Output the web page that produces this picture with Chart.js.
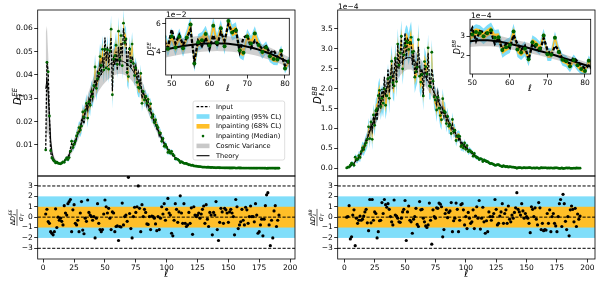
<!DOCTYPE html>
<html><head><meta charset="utf-8"><title>Inpainting power spectra</title>
<script src="https://cdn.jsdelivr.net/npm/chart.js@4.4.1/dist/chart.umd.min.js"></script>
<style>
html,body{margin:0;padding:0;background:#fff;}
#wrap{position:relative;width:600px;height:284px;overflow:hidden;background:#fff;}
#wrap canvas{position:absolute;left:0;top:0;}
</style></head><body>
<div id="wrap">
<canvas id="mainEE" width="600" height="284"></canvas>
<canvas id="resEE" width="600" height="284"></canvas>
<canvas id="mainBB" width="600" height="284"></canvas>
<canvas id="resBB" width="600" height="284"></canvas>
<canvas id="insEE" width="600" height="284"></canvas>
<canvas id="insBB" width="600" height="284"></canvas>
</div>
<script>
// ================= DATA (multipoles start at ell = 2) =================
const ELL_MIN = 2;
// ---- EE, units of 1e-3 ----
const theoryEE = [
 34,38,32,22,12,7.0,4.8,3.6,3.0,2.6,
 2.3,2.1,2.1,2.2,2.5,3.0,3.6,4.3,5.1,6.0,
 7.0,8.0,9.1,10.3,11.6,13.0,14.5,16.0,17.6,19.2,
 20.8,22.4,24.0,25.6,27.1,28.6,30.1,31.5,32.9,34.2,
 35.4,36.6,37.7,38.7,39.6,40.4,41.2,41.9,42.5,43.1,
 43.6,44.1,44.5,44.9,45.2,45.5,45.7,45.9,46.0,46.1,
 46.1,46.0,45.9,45.7,45.4,45.1,44.7,44.2,43.6,43.0,
 42.3,41.5,40.6,39.6,38.6,37.5,36.3,35.0,33.7,32.4,
 31.0,29.6,28.2,26.8,25.4,24.0,22.6,21.2,19.9,18.6,
 17.3,16.1,14.9,13.8,12.7,11.7,10.7,9.8,9.0,8.2,
 7.5,6.8,6.2,5.6,5.1,4.6,4.2,3.8,3.4,3.1,
 2.8,2.5,2.3,2.1,1.9,1.7,1.6,1.4,1.3,1.2,
 1.1,1.0,0.92,0.85,0.78,0.72,0.66,0.61,0.56,0.52,
 0.48,0.45,0.42,0.39,0.36,0.34,0.32,0.30,0.28,0.26,
 0.25,0.24,0.23,0.22,0.21,0.20,0.19,0.18,0.17,0.17,
 0.16,0.16,0.15,0.15,0.14,0.14,0.13,0.13,0.12,0.12,
 0.12,0.11,0.11,0.11,0.10,0.10,0.10,0.10,0.09,0.09,
 0.09,0.09,0.09,0.08,0.08,0.08,0.08,0.08,0.08,0.07,
 0.07,0.07,0.07,0.07,0.07,0.07,0.07,0.06,0.06,0.06];
const cvEE = [
 24,23,17,10,5.5,3.0,1.9,1.3,1.0,0.8,
 0.7,0.6,0.6,0.6,0.6,0.7,0.8,0.9,1.1,1.2,
 1.4,1.6,1.8,2.0,2.2,2.4,2.6,2.8,3.0,3.2,
 3.4,3.6,3.8,4.0,4.2,4.4,4.6,4.8,5.0,5.1,
 5.2,5.3,5.4,5.5,5.6,5.7,5.7,5.8,5.8,5.8,
 5.8,5.8,5.8,5.8,5.8,5.8,5.8,5.7,5.7,5.7,
 5.6,5.6,5.5,5.5,5.4,5.4,5.3,5.2,5.1,5.0,
 4.9,4.8,4.7,4.6,4.4,4.3,4.1,4.0,3.8,3.7,
 3.5,3.3,3.2,3.0,2.9,2.7,2.5,2.4,2.2,2.1,
 1.9,1.8,1.7,1.5,1.4,1.3,1.2,1.1,1.0,0.9,
 0.8,0.7,0.65,0.6,0.5,0.45,0.4,0.4,0.35,0.3,
 0.3,0.25,0.22,0.2,0.18,0.16,0.15,0.13,0.12,0.11,
 0.1,0.09,0.08,0.08,0.07,0.07,0.06,0.06,0.05,0.05,
 0.04,0.04,0.04,0.04,0.04,0.04,0.04,0.04,0.04,0.04,
 0.03,0.03,0.03,0.03,0.03,0.03,0.03,0.03,0.03,0.03,
 0.02,0.02,0.02,0.02,0.02,0.02,0.02,0.02,0.02,0.02,
 0.02,0.02,0.02,0.02,0.02,0.02,0.02,0.02,0.02,0.02,
 0.01,0.01,0.01,0.01,0.01,0.01,0.01,0.01,0.01,0.01,
 0.01,0.01,0.01,0.01,0.01,0.01,0.01,0.01,0.01,0.01];
const inputEE = [
 8.0,46.0,41.0,22.0,7.0,4.0,3.2,2.8,2.5,2.4,
 2.2,2.0,1.9,2.2,2.6,2.9,3.8,4.6,4.4,5.5,
 8.5,10.5,9.5,11.5,11.0,13.0,14.8,15.5,17.0,20.5,
 22.0,19.0,24.5,27.0,25.0,29.5,27.5,33.0,30.0,35.5,
 38.0,34.0,42.0,39.0,44.5,40.0,47.5,43.0,56.0,46.0,
 52.0,45.0,50.0,56.0,33.0,48.0,44.0,50.0,42.0,52.0,
 44.0,54.0,48.0,60.0,54.0,56.0,40.0,50.0,52.0,43.0,
 48.0,45.0,42.0,44.0,39.0,41.0,36.0,38.0,30.0,33.0,
 30.5,31.5,27.0,28.5,25.0,26.0,22.0,23.0,19.5,20.0,
 17.0,17.5,14.0,15.0,12.5,13.0,10.5,10.0,9.5,8.0,
 7.8,6.6,6.5,5.3,5.3,4.5,4.3,3.7,3.5,3.0,
 2.9,2.4,2.4,2.0,2.0,1.7,1.6,1.4,1.35,1.2,
 1.1,1.0,0.95,0.85,0.8,0.72,0.68,0.6,0.57,0.52,
 0.49,0.45,0.43,0.39,0.37,0.34,0.33,0.30,0.29,0.26,
 0.26,0.24,0.24,0.22,0.22,0.20,0.20,0.18,0.18,0.17,
 0.17,0.16,0.16,0.15,0.15,0.14,0.14,0.13,0.13,0.12,
 0.12,0.11,0.12,0.11,0.10,0.11,0.10,0.10,0.09,0.10,
 0.09,0.09,0.09,0.08,0.09,0.08,0.08,0.08,0.08,0.07,
 0.08,0.07,0.07,0.07,0.07,0.07,0.07,0.06,0.06,0.06];
const sigmaEE = [
 0.4,0.8,0.8,0.7,0.4,0.3,0.25,0.2,0.2,0.2,
 0.2,0.2,0.2,0.2,0.25,0.3,0.35,0.4,0.5,0.6,
 0.7,0.8,0.9,1.0,1.1,1.2,1.3,1.4,1.5,1.6,
 1.7,1.8,1.9,2.0,2.1,2.2,2.3,2.4,2.5,2.6,
 2.7,2.7,2.8,2.8,2.8,2.9,2.9,2.9,3.0,3.0,
 3.0,3.0,3.0,3.0,3.0,3.0,3.0,3.0,3.0,3.0,
 3.0,3.0,3.0,2.9,2.9,2.9,2.8,2.8,2.7,2.7,
 2.6,2.5,2.4,2.3,2.2,2.1,2.0,1.9,1.8,1.7,
 1.6,1.55,1.5,1.45,1.4,1.35,1.3,1.25,1.2,1.15,
 1.1,1.05,1.0,0.95,0.9,0.85,0.8,0.75,0.7,0.65,
 0.6,0.55,0.5,0.45,0.4,0.37,0.34,0.31,0.28,0.25,
 0.22,0.2,0.18,0.16,0.14,0.13,0.12,0.11,0.1,0.09,
 0.08,0.08,0.07,0.07,0.06,0.06,0.05,0.05,0.05,0.04,
 0.04,0.04,0.04,0.04,0.04,0.04,0.04,0.04,0.04,0.04,
 0.03,0.03,0.03,0.03,0.03,0.03,0.03,0.03,0.03,0.03,
 0.03,0.03,0.03,0.03,0.03,0.03,0.03,0.03,0.03,0.03,
 0.02,0.02,0.02,0.02,0.02,0.02,0.02,0.02,0.02,0.02,
 0.02,0.02,0.02,0.02,0.02,0.02,0.02,0.02,0.02,0.02,
 0.02,0.02,0.02,0.02,0.02,0.02,0.02,0.02,0.02,0.02];
const residEE = [
 0.3,0.76,-0.43,-0.6,-1.4,-1.56,-1.7,-1.4,0.8,-1.0,
 0.0,-0.3,-0.1,-0.4,-0.75,1.1,0.4,0.2,1.3,1.5,
 1.7,-1.4,0.7,1.2,-0.6,-0.75,-0.3,-1.4,0.4,1.5,
 -1.25,-1.6,-0.1,-0.4,1.65,0.45,0.2,0.05,-0.3,0.05,
 -2.0,-0.1,1.3,-0.6,-1.2,-1.4,-1.2,0.3,1.65,1.0,
 0.4,0.85,-0.1,-1.2,0.5,0.4,-1.4,-0.9,-0.85,-2.25,
 -0.9,-0.95,1.35,-0.75,0.05,0.2,-0.4,3.83,0.35,-1.1,
 -2.0,0.05,0.95,0.45,1.0,3.0,0.85,-1.4,1.2,0.05,
 0.75,0.45,-0.65,-0.7,0.05,-1.2,0.1,0.05,-0.1,-0.65,
 -1.3,0.05,-1.2,-0.1,1.0,0.3,1.3,-0.3,0.75,1.8,
 0.4,0.2,-1.55,-1.8,-0.3,1.3,0.75,-0.5,0.5,2.05,
 0.4,-0.6,1.3,-0.6,-0.9,-0.75,0.45,-0.6,0.9,-1.65,
 1.0,0.2,0.05,0.2,0.4,-0.1,0.3,0.75,1.07,-0.6,
 1.2,-0.2,-0.9,0.45,0.2,-1.7,0.45,0.2,1.5,-1.2,
 -2.25,-0.5,0.85,0.5,-0.6,0.85,0.7,0.4,-0.5,0.5,
 0.75,0.4,0.05,-1.7,1.7,1.0,-1.1,-0.75,-0.45,0.75,
 -0.3,-0.75,0.95,0.7,-0.6,0.05,1.07,0.05,0.05,-0.45,
 1.3,0.2,-1.55,-1.4,-0.75,-0.2,-1.8,-0.2,1.1,2.15,
 2.35,-0.75,-2.75,-0.3,-2.0,0.6,1.1,-0.9,-0.3,0.2];
// ---- BB, units of 1e-4 ----
const theoryBB = [
 0.02,0.03,0.04,0.06,0.08,0.10,0.13,0.16,0.20,0.24,
 0.29,0.34,0.40,0.46,0.53,0.60,0.68,0.76,0.84,0.92,
 1.00,1.08,1.16,1.24,1.32,1.40,1.48,1.56,1.64,1.72,
 1.80,1.88,1.95,2.02,2.09,2.16,2.22,2.28,2.34,2.40,
 2.45,2.50,2.55,2.59,2.63,2.67,2.70,2.73,2.75,2.77,
 2.78,2.78,2.78,2.77,2.75,2.72,2.69,2.65,2.60,2.56,
 2.52,2.48,2.44,2.39,2.34,2.29,2.24,2.19,2.13,2.08,
 2.02,1.96,1.90,1.84,1.78,1.72,1.65,1.59,1.53,1.47,
 1.41,1.35,1.29,1.23,1.17,1.11,1.06,1.00,0.95,0.90,
 0.85,0.80,0.76,0.71,0.67,0.63,0.59,0.56,0.52,0.49,
 0.46,0.43,0.40,0.38,0.35,0.33,0.31,0.29,0.27,0.25,
 0.23,0.22,0.20,0.19,0.17,0.16,0.15,0.14,0.13,0.12,
 0.11,0.10,0.095,0.088,0.081,0.075,0.069,0.064,0.059,0.055,
 0.050,0.046,0.043,0.040,0.037,0.034,0.031,0.029,0.027,0.025,
 0.023,0.021,0.020,0.018,0.017,0.016,0.015,0.014,0.013,0.012,
 0.012,0.011,0.011,0.010,0.010,0.009,0.009,0.009,0.008,0.008,
 0.008,0.007,0.007,0.007,0.007,0.006,0.006,0.006,0.006,0.006,
 0.005,0.005,0.005,0.005,0.005,0.005,0.005,0.005,0.005,0.005,
 0.005,0.005,0.005,0.004,0.004,0.004,0.004,0.004,0.004,0.004,
 0.004,0.004,0.004];
const cvBB = [
 0.01,0.015,0.02,0.025,0.03,0.035,0.04,0.045,0.05,0.06,
 0.07,0.08,0.09,0.10,0.11,0.12,0.13,0.14,0.15,0.16,
 0.17,0.18,0.19,0.20,0.21,0.22,0.22,0.23,0.24,0.25,
 0.26,0.26,0.27,0.27,0.28,0.28,0.29,0.29,0.30,0.30,
 0.30,0.30,0.30,0.30,0.30,0.30,0.30,0.30,0.30,0.30,
 0.30,0.30,0.30,0.29,0.29,0.29,0.28,0.28,0.27,0.27,
 0.26,0.26,0.25,0.25,0.24,0.24,0.23,0.23,0.22,0.22,
 0.21,0.20,0.20,0.19,0.19,0.18,0.17,0.17,0.16,0.16,
 0.15,0.14,0.14,0.13,0.12,0.12,0.11,0.11,0.10,0.10,
 0.09,0.09,0.08,0.08,0.07,0.07,0.07,0.06,0.06,0.05,
 0.05,0.05,0.04,0.04,0.04,0.04,0.03,0.03,0.03,0.03,
 0.03,0.02,0.02,0.02,0.02,0.02,0.02,0.02,0.02,0.02,
 0.01,0.01,0.01,0.01,0.01,0.01,0.01,0.01,0.01,0.01,
 0.01,0.01,0.01,0.01,0.01,0.01,0.01,0.01,0.01,0.01,
 0.005,0.005,0.005,0.005,0.005,0.005,0.005,0.005,0.005,0.005,
 0.004,0.004,0.004,0.004,0.004,0.004,0.004,0.004,0.004,0.004,
 0.003,0.003,0.003,0.003,0.003,0.003,0.003,0.003,0.003,0.003,
 0.003,0.003,0.003,0.003,0.003,0.003,0.003,0.003,0.003,0.003,
 0.002,0.002,0.002,0.002,0.002,0.002,0.002,0.002,0.002,0.002,
 0.002,0.002,0.002];
const inputBB = [
 0.01,0.03,0.05,0.04,0.08,0.12,0.10,0.17,0.22,0.20,
 0.30,0.28,0.40,0.50,0.48,0.62,0.72,0.68,0.90,0.95,
 1.10,0.95,1.30,1.15,1.50,1.20,1.60,1.90,1.50,2.00,
 1.70,2.30,1.80,2.00,2.50,1.90,2.30,2.60,2.00,2.40,
 2.80,2.20,3.10,2.50,2.80,3.30,2.60,3.00,3.40,2.75,
 3.25,3.20,3.10,3.20,2.60,2.90,2.30,2.60,2.40,3.05,
 2.60,2.30,2.50,1.80,2.60,2.40,2.20,2.90,2.30,2.00,
 2.50,2.30,1.80,1.70,1.60,1.90,1.70,1.50,1.35,1.50,
 1.30,1.45,1.20,1.30,1.10,1.15,1.00,1.10,0.90,0.95,
 0.80,0.85,0.72,0.78,0.62,0.66,0.55,0.60,0.48,0.52,
 0.44,0.45,0.40,0.39,0.33,0.34,0.30,0.30,0.26,0.26,
 0.22,0.23,0.19,0.20,0.16,0.17,0.14,0.15,0.12,0.12,
 0.11,0.10,0.10,0.09,0.08,0.08,0.07,0.065,0.06,0.055,
 0.05,0.046,0.043,0.04,0.037,0.034,0.031,0.029,0.027,0.025,
 0.024,0.021,0.021,0.018,0.018,0.016,0.016,0.014,0.014,0.012,
 0.012,0.011,0.011,0.010,0.010,0.009,0.009,0.009,0.008,0.008,
 0.008,0.007,0.007,0.007,0.007,0.006,0.006,0.006,0.006,0.006,
 0.005,0.005,0.005,0.005,0.005,0.005,0.005,0.005,0.005,0.005,
 0.005,0.005,0.005,0.004,0.004,0.004,0.004,0.004,0.004,0.004,
 0.004,0.004,0.004];
const sigmaBB = [
 0.01,0.01,0.015,0.02,0.025,0.03,0.035,0.04,0.05,0.05,
 0.06,0.06,0.07,0.08,0.08,0.09,0.10,0.10,0.11,0.12,
 0.12,0.13,0.14,0.14,0.15,0.15,0.16,0.16,0.17,0.17,
 0.18,0.18,0.18,0.19,0.19,0.19,0.20,0.20,0.20,0.20,
 0.20,0.20,0.20,0.20,0.20,0.20,0.20,0.20,0.20,0.20,
 0.20,0.20,0.20,0.20,0.20,0.20,0.20,0.20,0.20,0.20,
 0.19,0.19,0.19,0.18,0.18,0.18,0.17,0.17,0.17,0.16,
 0.16,0.16,0.15,0.15,0.15,0.14,0.14,0.14,0.13,0.13,
 0.12,0.12,0.11,0.11,0.10,0.10,0.09,0.09,0.085,0.08,
 0.075,0.07,0.07,0.065,0.06,0.06,0.055,0.05,0.05,0.045,
 0.045,0.04,0.04,0.035,0.035,0.03,0.03,0.03,0.025,0.025,
 0.02,0.02,0.02,0.02,0.02,0.02,0.02,0.02,0.02,0.02,
 0.015,0.015,0.015,0.015,0.015,0.015,0.015,0.015,0.015,0.015,
 0.01,0.01,0.01,0.01,0.01,0.01,0.01,0.01,0.01,0.01,
 0.01,0.01,0.01,0.01,0.01,0.01,0.01,0.01,0.01,0.01,
 0.005,0.005,0.005,0.005,0.005,0.005,0.005,0.005,0.005,0.005,
 0.005,0.005,0.005,0.005,0.005,0.005,0.005,0.005,0.005,0.005,
 0.005,0.005,0.005,0.005,0.005,0.005,0.005,0.005,0.005,0.005,
 0.005,0.005,0.005,0.005,0.005,0.005,0.005,0.005,0.005,0.005,
 0.005,0.005,0.005];
const residBB = [
 0.0,0.05,1.1,-2.1,-1.9,0.2,0.7,-2.75,-0.1,-0.6,
 -0.3,0.1,-0.3,-0.2,0.1,0.5,0.75,-0.55,-1.3,1.7,
 -0.55,1.7,-0.3,0.5,0.35,-2.0,-1.4,-0.35,-0.3,1.4,
 0.35,1.7,1.2,0.95,1.3,0.75,0.05,-0.45,-0.75,1.65,
 0.2,0.1,-0.1,-0.45,-0.5,-0.1,0.5,0.75,1.6,-2.25,
 0.5,1.07,-0.3,-0.45,-1.55,-0.2,0.05,0.85,-0.7,-0.9,
 1.5,0.7,0.75,-0.1,-0.45,-0.85,-1.0,-0.75,1.35,-0.3,
 -2.6,0.7,0.05,-0.1,0.9,0.85,1.35,1.25,1.0,-1.9,
 -1.2,0.35,0.7,-0.05,0.45,0.6,1.4,-1.4,-0.35,-0.1,
 1.35,0.75,-1.4,-0.3,1.2,1.3,0.7,-0.75,0.05,-1.1,
 0.45,-0.1,-0.6,-0.45,0.7,-1.1,0.1,1.0,-0.1,1.6,
 -1.15,-0.1,0.95,-0.45,-1.55,-0.35,-1.4,0.5,0.05,-0.3,
 0.05,0.35,1.7,0.75,-0.75,-0.6,0.1,0.5,1.3,-0.6,
 0.35,0.7,-0.6,1.07,-0.2,-0.45,0.2,-0.1,0.45,0.9,
 2.35,0.75,0.5,0.2,1.3,0.6,-0.1,0.35,0.05,-0.1,
 -0.6,-1.5,1.0,0.75,0.05,0.9,-0.2,-0.75,1.4,0.9,
 -1.2,-0.6,-1.3,-1.2,-1.25,0.35,-0.6,0.7,-1.4,0.05,
 0.35,-0.6,-0.85,-1.4,0.05,1.3,1.7,-0.9,2.2,1.3,
 -0.4,-1.2,0.05,-1.8,0.7,1.07,0.75,-0.45,0.85,-0.9,
 0.3,-0.2,0.1];
// ---- ticks / reference levels ----
const mainEETicks = [0.01,0.02,0.03,0.04,0.05,0.06];
const mainBBTicks = [0,0.5,1,1.5,2,2.5,3,3.5];
const resYTicks = [-3,-2,-1,0,1,2,3];
const resXTicks = [0,25,50,75,100,125,150,175,200];
const insXTicks = [50,60,70,80];
const insEETicks = [4,6];
const insBBTicks = [2,3];
const sigmaLevels = [2,1];
const refLines = [-3,0,3];
const legendLabels = ['Input','Inpainting (95% CL)','Inpainting (68% CL)','Inpainting (Median)','Cosmic Variance','Theory'];

// ================= STYLE =================
const FONT = 'DejaVu Sans';
const CYAN = 'rgb(128,222,250)';
const ORANGE = 'rgb(255,191,40)';
const GRAY = 'rgba(140,140,140,0.42)';
const GREEN = 'rgb(0,100,0)';

function buildSpectrum(T, CV, I, S, R){
  const ells = T.map((_, i) => ELL_MIN + i);
  const M = I.map((v, i) => v - R[i] * S[i]);
  return {ells, T, I, M, R,
    cvHi: T.map((v,i)=>v+CV[i]), cvLo: T.map((v,i)=>v-CV[i]),
    hi68: M.map((v,i)=>v+S[i]), lo68: M.map((v,i)=>v-S[i]),
    hi95: M.map((v,i)=>v+2*S[i]), lo95: M.map((v,i)=>v-2*S[i])};
}
const EE = buildSpectrum(theoryEE, cvEE, inputEE, sigmaEE, residEE);
const BB = buildSpectrum(theoryBB, cvBB, inputBB, sigmaBB, residBB);

function xy(sp, key, k){ return sp[key].map((v,i)=>({x: sp.ells[i], y: v*k})); }

function specDatasets(sp, k, st){
  const band = (key, fill, color, order) => ({data: xy(sp,key,k), fill: fill ? '+1' : false,
    backgroundColor: color, borderColor:'transparent', borderWidth:0, pointRadius:0, order, clip:0});
  return [
    {label:'Inpainting (Median)', data: xy(sp,'M',k), showLine:false, pointRadius: st.pr,
      pointBackgroundColor: GREEN, pointBorderColor: GREEN, pointBorderWidth:0, order:0, clip:0},
    {label:'Theory', data: xy(sp,'T',k), borderColor:'#000', borderWidth: st.tw, pointRadius:0, order:1, clip:0},
    {label:'Input', data: xy(sp,'I',k), borderColor:'#000', borderWidth: st.iw, borderDash: st.dash, pointRadius:0, order:2, clip:0},
    band('cvHi', true, GRAY, 3), band('cvLo', false, GRAY, 3),
    band('hi68', true, ORANGE, 4), band('lo68', false, ORANGE, 4),
    band('hi95', true, CYAN, 5), band('lo95', false, CYAN, 5)
  ];
}

function axis(pos, min, max, ticks, fmt, size, show){
  return {type:'linear', position:pos, min, max, bounds:'data', display: show,
    afterBuildTicks: s => { s.ticks = ticks.map(v => ({value: v})); },
    afterFit: s => { if (pos==='left') s.width=size; else s.height=size;
      s.paddingLeft=0; s.paddingRight=0; s.paddingTop=0; s.paddingBottom=0; },
    grid:{display:true, drawOnChartArea:false, drawTicks:true, tickLength:3.5, tickWidth:0.8, tickColor:'#000', color:'#000', lineWidth:0.8},
    border:{display:false},
    ticks:{callback: v => fmt(v), font:{family:FONT, size:7.5}, color:'#000', padding:1.5, autoSkip:false, maxRotation:0, minRotation:0}
  };
}
const fmtMinus = v => (v<0 ? '\u2212' : '') + Math.abs(v);

function makeChart(id, box, datasets, xAx, yAx, xH, yW, plugins){
  const [l,t,r,b] = box;
  return new Chart(document.getElementById(id), {
    type:'line', data:{datasets},
    options:{responsive:false, animation:false, devicePixelRatio:1, events:[],
      layout:{autoPadding:false, padding:{left:l-yW, top:t, right:600-r, bottom:284-b-xH}},
      plugins:{legend:{display:false}, tooltip:{enabled:false}},
      elements:{line:{tension:0}},
      scales:{x:xAx, y:yAx}},
    plugins
  });
}

// ---------- plugins / text helpers ----------
const frame = {id:'frame', afterDraw(c){ const a=c.chartArea, g=c.ctx; g.save(); g.strokeStyle='#000'; g.lineWidth=0.8;
  g.strokeRect(a.left,a.top,a.right-a.left,a.bottom-a.top); g.restore(); }};
const whiteArea = {id:'whiteArea', beforeDraw(c){ const a=c.chartArea, g=c.ctx; g.save(); g.fillStyle='#fff';
  g.fillRect(a.left,a.top,a.right-a.left,a.bottom-a.top); g.restore(); }};
const resBands = {id:'resBands', beforeDatasetsDraw(c){
  const a=c.chartArea, g=c.ctx, y=c.scales.y; const cols=[CYAN, ORANGE];
  g.save();
  sigmaLevels.forEach((s,i)=>{ const y1=y.getPixelForValue(s), y2=y.getPixelForValue(-s);
    g.fillStyle=cols[i]; g.fillRect(a.left,y1,a.right-a.left,y2-y1); });
  g.strokeStyle='#000'; g.lineWidth=1; g.setLineDash([3.2,1.6]);
  refLines.forEach(v=>{ const p=y.getPixelForValue(v); g.beginPath(); g.moveTo(a.left,p); g.lineTo(a.right,p); g.stroke(); });
  g.restore(); }};
const textPlugin = fn => ({id:'txt'+Math.random().toString(36).slice(2), afterDraw(c){ const g=c.ctx; g.save(); g.fillStyle='#000'; g.strokeStyle='#000'; g.textAlign='left'; g.textBaseline='alphabetic'; fn(g,c); g.restore(); }});

function measureMath(g, size, pre, base, sup, sub){
  let w = 0;
  if (pre){ g.font = `${size}px ${FONT}`; w += g.measureText(pre).width; }
  g.font = `italic ${size}px ${FONT}`; w += g.measureText(base).width + 0.5;
  g.font = `italic ${size*0.7}px ${FONT}`;
  w += Math.max(sup ? g.measureText(sup).width : 0, sub ? g.measureText(sub).width : 0);
  return w;
}
function drawMath(g, x, y, size, pre, base, sup, sub){
  let cx = x;
  if (pre){ g.font = `${size}px ${FONT}`; g.fillText(pre, cx, y); cx += g.measureText(pre).width; }
  g.font = `italic ${size}px ${FONT}`; g.fillText(base, cx, y); cx += g.measureText(base).width + 0.5;
  g.font = `italic ${size*0.7}px ${FONT}`;
  if (sup) g.fillText(sup, cx, y - size*0.42);
  if (sub) g.fillText(sub, cx, y + size*0.22);
}
function yLabel(g, cx, cy, size, sup){
  const w = measureMath(g, size, '', 'D', sup, '\u2113');
  g.save(); g.translate(cx, cy); g.rotate(-Math.PI/2);
  drawMath(g, -w/2, size*0.33, size, '', 'D', sup, '\u2113');
  g.restore();
}
function fracLabel(g, cx, cy, sup){
  const s = 6.5;
  const wn = measureMath(g, s, '\u0394', 'D', sup, '\u2113');
  const wd = measureMath(g, s, '', '\u03c3', '', 'T');
  const L = Math.max(wn, wd) + 1;
  g.save(); g.translate(cx, cy); g.rotate(-Math.PI/2);
  drawMath(g, -wn/2, -2.4, s, '\u0394', 'D', sup, '\u2113');
  g.lineWidth = 0.6; g.beginPath(); g.moveTo(-L/2, 0); g.lineTo(L/2, 0); g.stroke();
  drawMath(g, -wd/2, 5.6, s, '', '\u03c3', '', 'T');
  g.restore();
}
function xLabel(g, cx, cy, size){
  g.font = `italic ${size}px ${FONT}`; g.textAlign='center'; g.textBaseline='middle';
  g.fillText('\u2113', cx, cy); g.textAlign='left'; g.textBaseline='alphabetic';
}
function offsetText(g, x, y, txt){ g.font = `7.5px ${FONT}`; g.fillText(txt, x, y); }
function drawLegend(g){
  const x0=193, y0=101, w=91.7, h=59, r=2;
  g.beginPath(); g.moveTo(x0+r,y0); g.lineTo(x0+w-r,y0); g.quadraticCurveTo(x0+w,y0,x0+w,y0+r);
  g.lineTo(x0+w,y0+h-r); g.quadraticCurveTo(x0+w,y0+h,x0+w-r,y0+h); g.lineTo(x0+r,y0+h);
  g.quadraticCurveTo(x0,y0+h,x0,y0+h-r); g.lineTo(x0,y0+r); g.quadraticCurveTo(x0,y0,x0+r,y0); g.closePath();
  g.fillStyle='rgba(255,255,255,0.85)'; g.fill(); g.strokeStyle='#d6d6d6'; g.lineWidth=0.8; g.stroke();
  const hx0=196.5, hx1=209.5;
  legendLabels.forEach((lab,i)=>{
    const y = 106.7 + i*9.8;
    g.save();
    if (i===0){ g.strokeStyle='#000'; g.lineWidth=1.2; g.setLineDash([2.6,1.6]); g.beginPath(); g.moveTo(hx0,y); g.lineTo(hx1,y); g.stroke(); }
    if (i===1){ g.fillStyle=CYAN; g.fillRect(hx0,y-2.3,hx1-hx0,4.6); }
    if (i===2){ g.fillStyle=ORANGE; g.fillRect(hx0,y-2.3,hx1-hx0,4.6); }
    if (i===3){ g.fillStyle=GREEN; g.beginPath(); g.arc((hx0+hx1)/2,y,1.3,0,Math.PI*2); g.fill(); }
    if (i===4){ g.fillStyle='rgb(200,200,200)'; g.fillRect(hx0,y-2.3,hx1-hx0,4.6); }
    if (i===5){ g.strokeStyle='#000'; g.lineWidth=1.1; g.beginPath(); g.moveTo(hx0,y); g.lineTo(hx1,y); g.stroke(); }
    g.restore();
    g.fillStyle='#000'; g.font=`6.6px ${FONT}`; g.textBaseline='middle'; g.fillText(lab, 216, y+0.3);
  });
  g.textBaseline='alphabetic';
}

// ================= CHARTS =================
const mainStyle = {pr:1.4, tw:1.0, iw:1.3, dash:[2.6,1.5]};
const insStyle = {pr:2.0, tw:2.0, iw:2.3, dash:[3.6,1.8]};

// EE main
makeChart('mainEE', [37.7,10,295,176], specDatasets(EE, 1e-3, mainStyle),
  axis('bottom', -4.5, 204, [], v=>'', 0, false),
  axis('left', -0.00328, 0.0678, mainEETicks, v=>v.toFixed(2), 30, true), 0, 30,
  [frame, textPlugin(g=>{ yLabel(g, 18, 96.5, 10, 'EE'); drawLegend(g); })]);
// EE residual
makeChart('resEE', [37.7,176,295,259],
  [{data: EE.R.map((v,i)=>({x:EE.ells[i], y:v})), showLine:false, pointRadius:1.6, pointBackgroundColor:'#000', pointBorderColor:'#000', pointBorderWidth:0, clip:0}],
  axis('bottom', -4.5, 204, resXTicks, v=>String(v), 14, true),
  axis('left', -4.03, 3.96, resYTicks, fmtMinus, 30, true), 14, 30,
  [resBands, frame, textPlugin(g=>{ fracLabel(g, 17, 217.5, 'EE'); xLabel(g, 166, 274, 10); })]);
// BB main
makeChart('mainBB', [337.7,10,595,176], specDatasets(BB, 1, mainStyle),
  axis('bottom', -5.4, 206.3, [], v=>'', 0, false),
  axis('left', -0.193, 3.977, mainBBTicks, v=>v.toFixed(1), 30, true), 0, 30,
  [frame, textPlugin(g=>{ yLabel(g, 318, 95, 10, 'BB'); offsetText(g, 338, 8.5, '1e\u22124'); })]);
// BB residual
makeChart('resBB', [337.7,176,595,259],
  [{data: BB.R.map((v,i)=>({x:BB.ells[i], y:v})), showLine:false, pointRadius:1.6, pointBackgroundColor:'#000', pointBorderColor:'#000', pointBorderWidth:0, clip:0}],
  axis('bottom', -5.4, 206.3, resXTicks, v=>String(v), 14, true),
  axis('left', -4.03, 3.96, resYTicks, fmtMinus, 30, true), 14, 30,
  [resBands, frame, textPlugin(g=>{ fracLabel(g, 317, 217.5, 'BB'); xLabel(g, 466, 274, 10); })]);
// EE inset (units 1e-2)
makeChart('insEE', [165.7,18.3,289.3,75], specDatasets(EE, 0.1, insStyle),
  axis('bottom', 48.41, 81.14, insXTicks, v=>String(v), 12, true),
  axis('left', 2.32, 6.41, insEETicks, v=>String(v), 12, true), 12, 12,
  [whiteArea, frame, textPlugin(g=>{ yLabel(g, 151.5, 49, 8, 'EE'); xLabel(g, 228, 89, 9); offsetText(g, 166, 16.8, '1e\u22122'); })]);
// BB inset (units 1e-4)
makeChart('insBB', [470,19.3,590.7,74], specDatasets(BB, 1, insStyle),
  axis('bottom', 49.39, 81.52, insXTicks, v=>String(v), 12, true),
  axis('left', 1.07, 3.85, insBBTicks, v=>String(v), 12, true), 12, 12,
  [whiteArea, frame, textPlugin(g=>{ yLabel(g, 457, 47, 8, 'BB'); xLabel(g, 530, 89, 9); offsetText(g, 471, 17.6, '1e\u22124'); })]);
</script>
</body></html>
